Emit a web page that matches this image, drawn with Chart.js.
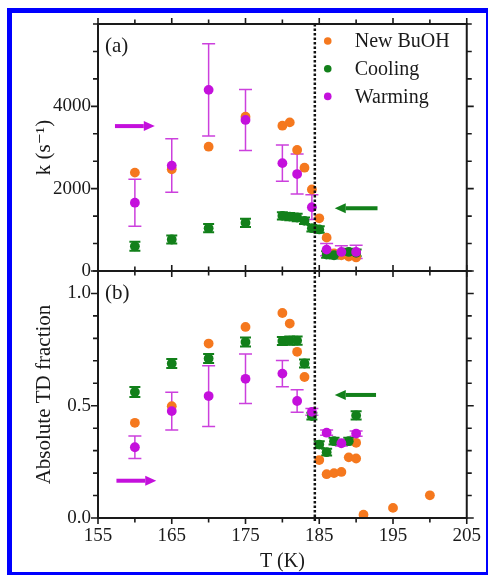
<!DOCTYPE html>
<html><head><meta charset="utf-8">
<script src="https://cdn.jsdelivr.net/npm/chart.js@4.4.1/dist/chart.umd.min.js"></script>
<style>
html,body{margin:0;padding:0;background:#fff;overflow:hidden;width:488px;height:575px}
#frame{position:absolute;left:7px;top:8px;width:474px;height:559px;border:5px solid #0000ff;}
#wrap{position:absolute;left:0;top:0;width:488px;height:575px}
</style></head><body>
<div id="frame"></div>
<div id="wrap"><canvas id="c" width="488" height="575"></canvas></div>
<script>
// ---------------- data ----------------
const seriesNames = ['New BuOH', 'Cooling', 'Warming'];

const tNew = [160,165,170,175,180,181,182,183,184,185,186,187,188,189,190,190,191,195,200];
const kNew = [2390,2470,3020,3750,3530,3610,2940,2510,1980,1280,810,430,380,350,330,420,null,null,null];
const fNew = [0.424,0.498,0.777,0.851,0.913,0.866,0.740,0.628,null,0.258,0.195,0.200,0.205,0.270,0.265,0.335,0.015,0.045,0.101];

const tCool = [160,165,170,175,180,181,182,183,184,185,186,187,188,189,190];
const kCool = [600,765,1040,1170,1340,1320,1300,1220,1040,1010,400,382,null,463,440];
const kCoolErr = [110,100,100,100,90,90,90,80,80,80,80,80,80,80,80];
const fCool = [0.561,0.688,0.710,0.784,0.788,0.790,0.790,0.688,0.454,0.327,0.293,0.342,null,0.342,0.457];
const fCoolErr = [0.022,0.02,0.02,0.02,0.018,0.018,0.018,0.018,0.015,0.015,0.015,0.015,0.015,0.015,0.018];

const tWarm = [160,165,170,175,180,182,184,186,188,190];
const kWarm = [1660,2560,4400,3670,2620,2355,1550,520,463,463];
const kWarmErr = [570,650,1120,740,440,485,300,150,150,160];
const fWarm = [0.315,0.476,0.543,0.620,0.643,0.521,0.473,0.380,0.333,0.376];
const fWarmErr = [0.05,0.084,0.135,0.11,0.058,0.05,0.015,0.012,0.012,0.012];

const xLabelTicks = [155,165,175,185,195,205];
const xMinorTicks = [160,170,180,190,200];
const kLabelTicks = [0,2000,4000];
const kMinorTicks = [666.67,1333.33,2666.67,3333.33,4666.67,5333.33,6000];
const fLabelTicks = [0,0.5,1.0];
const fMinorTicks = [0.1,0.2,0.3,0.4,0.6,0.7,0.8,0.9,1.1];

const boundaryT = 184.4;

// annotation arrows (data space)
const arrowAxis = ['yK','yK','yF','yF'];
const arrowFromT = [157.3,192.9,192.7,157.5];
const arrowToT = [162.7,187.1,187.1,162.9];
const arrowVal = [3520,1523,0.548,0.166];
const arrowSeries = [2,1,1,2];

// ---------------- styles ----------------
const FONT = "'Liberation Serif','Times New Roman','DejaVu Serif',serif";
const COLORS = ['#F5781E','#12801A','#C410DC'];
const ERRCOLORS = ['#F5781E','#12801A','#CC40DD'];
const INK = '#1a1a1a';

const specs = [
  {t:tNew, k:kNew, kErr:null, f:fNew, fErr:null, order:2},
  {t:tCool, k:kCool, kErr:kCoolErr, f:fCool, fErr:fCoolErr, order:1},
  {t:tWarm, k:kWarm, kErr:kWarmErr, f:fWarm, fErr:fWarmErr, order:0}
];

const datasets = [];
specs.forEach((s, si) => {
  [['yK', s.k, s.kErr], ['yF', s.f, s.fErr]].forEach(([axis, vals, errs]) => {
    datasets.push({
      label: seriesNames[si],
      seriesIndex: si,
      data: s.t.map((t, i) => ({x: t, y: vals[i]})),
      errors: errs,
      yAxisID: axis,
      backgroundColor: COLORS[si],
      borderColor: COLORS[si],
      borderWidth: 0,
      pointRadius: 4.9,
      pointHoverRadius: 4.9,
      showLine: false,
      order: s.order
    });
  });
});

const decor = {
  id: 'decor',
  beforeDatasetsDraw(chart) {
    const ctx = chart.ctx;
    ctx.save();
    chart.data.datasets.forEach((ds, i) => {
      if (!ds.errors) return;
      const meta = chart.getDatasetMeta(i);
      const sc = chart.scales[ds.yAxisID];
      ctx.strokeStyle = ERRCOLORS[ds.seriesIndex];
      ctx.lineWidth = ds.seriesIndex === 2 ? 1.5 : 2;
      const cap = ds.seriesIndex === 2 ? 6.5 : 5.5;
      ds.data.forEach((p, j) => {
        if (p.y === null || ds.errors[j] == null) return;
        const x = meta.data[j].x;
        const y1 = sc.getPixelForValue(p.y + ds.errors[j]);
        const y2 = sc.getPixelForValue(p.y - ds.errors[j]);
        ctx.beginPath();
        ctx.moveTo(x, y1); ctx.lineTo(x, y2);
        ctx.moveTo(x - cap, y1); ctx.lineTo(x + cap, y1);
        ctx.moveTo(x - cap, y2); ctx.lineTo(x + cap, y2);
        ctx.stroke();
      });
    });
    ctx.restore();
  },
  afterDatasetsDraw(chart) {
    const ctx = chart.ctx;
    const xs = chart.scales.x, yk = chart.scales.yK, yf = chart.scales.yF;
    const L = xs.left, R = xs.right;
    const T = yk.top, M = yk.bottom, B = yf.bottom;
    ctx.save();
    // dotted boundary
    const bx = xs.getPixelForValue(boundaryT);
    ctx.strokeStyle = '#111'; ctx.lineWidth = 2.5; ctx.setLineDash([2.5, 2]);
    ctx.beginPath(); ctx.moveTo(bx, T); ctx.lineTo(bx, B + 3); ctx.stroke();
    ctx.setLineDash([]);
    // frame
    ctx.strokeStyle = INK; ctx.lineWidth = 2;
    ctx.strokeRect(L, T, R - L, B - T);
    ctx.beginPath(); ctx.moveTo(L, M); ctx.lineTo(R, M); ctx.stroke();
    // x ticks
    ctx.lineWidth = 1.6;
    const xt = (v, len) => {
      const x = xs.getPixelForValue(v);
      ctx.beginPath();
      ctx.moveTo(x, T); ctx.lineTo(x, T - len);
      ctx.moveTo(x, M - len); ctx.lineTo(x, M + len);
      ctx.moveTo(x, B); ctx.lineTo(x, B + len);
      ctx.stroke();
    };
    xLabelTicks.forEach(v => xt(v, 6));
    xMinorTicks.forEach(v => xt(v, 4.5));
    const yt = (sc, v, len) => {
      const y = sc.getPixelForValue(v);
      ctx.beginPath();
      ctx.moveTo(L, y); ctx.lineTo(L - len, y);
      ctx.moveTo(R, y); ctx.lineTo(R + len, y);
      ctx.stroke();
    };
    kLabelTicks.forEach(v => yt(yk, v, 7));
    kMinorTicks.forEach(v => yt(yk, v, 5));
    fLabelTicks.forEach(v => yt(yf, v, 7));
    fMinorTicks.forEach(v => yt(yf, v, 5));
    // arrows
    arrowAxis.forEach((ax, i) => {
      const sc = chart.scales[ax];
      const x1 = xs.getPixelForValue(arrowFromT[i]);
      const x2 = xs.getPixelForValue(arrowToT[i]);
      const y = sc.getPixelForValue(arrowVal[i]);
      const dir = Math.sign(x2 - x1);
      const head = 11;
      ctx.strokeStyle = COLORS[arrowSeries[i]];
      ctx.fillStyle = COLORS[arrowSeries[i]];
      ctx.lineWidth = 4;
      ctx.beginPath(); ctx.moveTo(x1, y); ctx.lineTo(x2 - dir * head, y); ctx.stroke();
      ctx.beginPath();
      ctx.moveTo(x2, y);
      ctx.lineTo(x2 - dir * head, y - 5);
      ctx.lineTo(x2 - dir * head, y + 5);
      ctx.closePath(); ctx.fill();
    });
    // panel labels
    ctx.fillStyle = INK;
    ctx.font = '21px ' + FONT;
    ctx.textAlign = 'left'; ctx.textBaseline = 'middle';
    ctx.fillText('(a)', L + 7, T + 22);
    ctx.fillText('(b)', L + 7, M + 22);
    // legend
    const lx = R - 139, ly0 = T + 17, dy = 27.7;
    seriesNames.forEach((name, i) => {
      const y = ly0 + i * dy;
      ctx.fillStyle = COLORS[i];
      ctx.beginPath(); ctx.arc(lx, y, 3.8, 0, Math.PI * 2); ctx.fill();
      ctx.fillStyle = INK;
      ctx.font = '20px ' + FONT;
      ctx.fillText(name, lx + 27, y + 1);
    });
    ctx.restore();
  }
};

const tickFont = {family: FONT, size: 19};
const titleFont = {family: FONT, size: 21};

new Chart(document.getElementById('c'), {
  type: 'scatter',
  data: {datasets},
  options: {
    responsive: false,
    animation: false,
    devicePixelRatio: 1,
    events: [],
    layout: {padding: {left: 0, right: 18, top: 24, bottom: 0}},
    plugins: {legend: {display: false}, tooltip: {enabled: false}},
    scales: {
      x: {
        type: 'linear', position: 'bottom', min: 155, max: 205,
        afterBuildTicks: s => { s.ticks = xLabelTicks.map(v => ({value: v})); },
        afterFit: s => { s.height = 57; },
        grid: {display: false, drawTicks: false},
        border: {display: false},
        ticks: {padding: 7, color: INK, font: tickFont, maxRotation: 0, autoSkip: false, callback: v => String(v)},
        title: {display: true, text: 'T (K)', color: INK, font: {family: FONT, size: 20}, padding: {top: 0, bottom: 1}}
      },
      yF: {
        type: 'linear', position: 'left', stack: 'panels', stackWeight: 1, min: 0, max: 1.1,
        afterBuildTicks: s => { s.ticks = fLabelTicks.map(v => ({value: v})); },
        afterFit: s => { s.width = 98; },
        grid: {display: false, drawTicks: false},
        border: {display: false},
        ticks: {padding: 7, color: INK, font: tickFont, autoSkip: false, callback: v => Number(v).toFixed(1)},
        title: {display: true, text: 'Absolute TD fraction', color: INK, font: titleFont, padding: {top: 32, bottom: 0}}
      },
      yK: {
        type: 'linear', position: 'left', stack: 'panels', stackWeight: 1, min: 0, max: 6000,
        afterBuildTicks: s => { s.ticks = kLabelTicks.map(v => ({value: v})); },
        afterFit: s => { s.width = 98; },
        grid: {display: false, drawTicks: false},
        border: {display: false},
        ticks: {padding: 7, color: INK, font: tickFont, autoSkip: false, callback: v => String(v)},
        title: {display: true, text: 'k (s\u207B\u00B9)', color: INK, font: titleFont, padding: {top: 32, bottom: 0}}
      }
    }
  },
  plugins: [decor]
});
</script>
</body></html>
